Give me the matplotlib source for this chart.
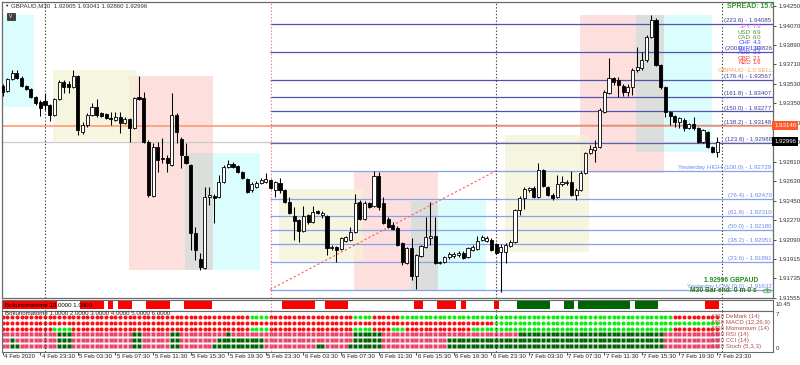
import matplotlib
matplotlib.use("Agg")
import matplotlib.pyplot as plt
from matplotlib.patches import Rectangle, Circle

plt.rcParams['font.family'] = ['Liberation Sans', 'DejaVu Sans']

# ---------------- data ----------------
open_ = [
    1.93511, 1.93465, 1.93576, 1.93631, 1.93585, 1.93511, 1.93484, 1.93410, 1.93363, 1.93373,
    1.93336, 1.93243, 1.93391, 1.93548, 1.93530, 1.93502, 1.93604, 1.93087, 1.93151, 1.93243,
    1.93317, 1.93262, 1.93253, 1.93216, 1.93197, 1.93225, 1.93170, 1.93207, 1.93124, 1.93410,
    1.93400, 1.92994, 1.92496, 1.92948, 1.92847, 1.92847, 1.92782, 1.93243, 1.93022, 1.92865,
    1.92782, 1.92154, 1.91914, 1.91831, 1.92487, 1.92496, 1.92487, 1.92625, 1.92763, 1.92791,
    1.92773, 1.92717, 1.92653, 1.92551, 1.92579, 1.92616, 1.92625, 1.92644, 1.92551, 1.92616,
    1.92551, 1.92440, 1.92311, 1.92274, 1.92173, 1.92320, 1.92256, 1.92357, 1.92320, 1.92311,
    1.92016, 1.92025, 1.92007, 1.92081, 1.92090, 1.92164, 1.92440, 1.92284, 1.92431, 1.92403,
    1.92680, 1.92431, 1.92284, 1.92228, 1.92201, 1.92062, 1.91878, 1.92016, 1.91758, 1.91942,
    1.92025, 1.92108, 1.92127, 1.91878, 1.91887, 1.91933, 1.91942, 1.91951, 1.91970, 1.91933,
    1.91997, 1.92007, 1.92090, 1.92081, 1.92090, 1.92053, 1.91979, 1.91979, 1.92034, 1.92071,
    1.92367, 1.92477, 1.92551, 1.92570, 1.92487, 1.92736, 1.92579, 1.92505, 1.92487, 1.92607,
    1.92616, 1.92625, 1.92505, 1.92551, 1.92708, 1.92893, 1.92920, 1.92948, 1.93271, 1.93447,
    1.93585, 1.93567, 1.93511, 1.93456, 1.93502, 1.93659, 1.93677, 1.93751, 1.93964, 1.94120,
    1.93705, 1.93502, 1.93271, 1.93234, 1.93179, 1.93197, 1.93124, 1.93160, 1.93124, 1.92994,
    1.93087, 1.92948, 1.92905]
high_ = [
    1.93530, 1.93585, 1.93659, 1.93659, 1.93604, 1.93520, 1.93493, 1.93419, 1.93382, 1.93447,
    1.93345, 1.93400, 1.93567, 1.93567, 1.93557, 1.93659, 1.93613, 1.93179, 1.93262, 1.93354,
    1.93391, 1.93271, 1.93262, 1.93271, 1.93271, 1.93271, 1.93225, 1.93216, 1.93410, 1.93604,
    1.93456, 1.93013, 1.92985, 1.92994, 1.93031, 1.92874, 1.93447, 1.93262, 1.93040, 1.92985,
    1.92791, 1.92210, 1.91970, 1.92579, 1.92579, 1.92514, 1.92690, 1.92782, 1.92828, 1.92810,
    1.92782, 1.92727, 1.92662, 1.92625, 1.92634, 1.92662, 1.92708, 1.92653, 1.92634, 1.92662,
    1.92560, 1.92487, 1.92394, 1.92284, 1.92403, 1.92330, 1.92403, 1.92367, 1.92357, 1.92320,
    1.92044, 1.92034, 1.92117, 1.92127, 1.92210, 1.92514, 1.92459, 1.92450, 1.92440, 1.92727,
    1.92717, 1.92487, 1.92302, 1.92256, 1.92219, 1.92071, 1.92025, 1.92108, 1.91961, 1.92044,
    1.92302, 1.92440, 1.92302, 1.91896, 1.91942, 1.91979, 1.91979, 1.91988, 1.91988, 1.92025,
    1.92044, 1.92127, 1.92136, 1.92127, 1.92108, 1.92062, 1.92053, 1.92062, 1.92090, 1.92376,
    1.92496, 1.92579, 1.92579, 1.92588, 1.92800, 1.92745, 1.92588, 1.92523, 1.92690, 1.92680,
    1.92644, 1.92727, 1.92570, 1.92727, 1.92902, 1.92967, 1.93013, 1.93308, 1.93474, 1.93770,
    1.93594, 1.93594, 1.93530, 1.93530, 1.93677, 1.93871, 1.93825, 1.93982, 1.94167, 1.94139,
    1.93714, 1.93511, 1.93280, 1.93243, 1.93225, 1.93216, 1.93170, 1.93225, 1.93133, 1.93114,
    1.93096, 1.92957, 1.93041]
low_ = [
    1.93419, 1.93456, 1.93567, 1.93576, 1.93502, 1.93474, 1.93400, 1.93336, 1.93234, 1.93290,
    1.93188, 1.93234, 1.93382, 1.93447, 1.93447, 1.93493, 1.93059, 1.93068, 1.93133, 1.93234,
    1.93225, 1.93225, 1.93207, 1.93151, 1.93188, 1.93077, 1.93160, 1.92994, 1.93114, 1.93382,
    1.92985, 1.92487, 1.92487, 1.92717, 1.92800, 1.92717, 1.92773, 1.92985, 1.92754, 1.92791,
    1.91997, 1.91905, 1.91813, 1.91822, 1.92413, 1.92247, 1.92477, 1.92616, 1.92754, 1.92754,
    1.92708, 1.92653, 1.92523, 1.92533, 1.92570, 1.92607, 1.92616, 1.92560, 1.92487, 1.92523,
    1.92431, 1.92330, 1.92090, 1.92071, 1.92164, 1.92237, 1.92247, 1.92330, 1.92293, 1.91951,
    1.91997, 1.91887, 1.91997, 1.92071, 1.92081, 1.92154, 1.92274, 1.92274, 1.92385, 1.92394,
    1.92367, 1.92237, 1.92201, 1.92182, 1.92034, 1.91859, 1.91868, 1.91721, 1.91638, 1.91933,
    1.92016, 1.92044, 1.91868, 1.91868, 1.91878, 1.91914, 1.91924, 1.91933, 1.91914, 1.91924,
    1.91988, 1.91997, 1.92081, 1.92071, 1.91988, 1.91961, 1.91610, 1.91878, 1.92025, 1.92062,
    1.92320, 1.92376, 1.92533, 1.92477, 1.92477, 1.92579, 1.92496, 1.92459, 1.92477, 1.92588,
    1.92597, 1.92496, 1.92459, 1.92542, 1.92699, 1.92883, 1.92810, 1.92939, 1.93262, 1.93437,
    1.93520, 1.93410, 1.93419, 1.93419, 1.93428, 1.93640, 1.93659, 1.93733, 1.93954, 1.93696,
    1.93484, 1.93225, 1.93151, 1.93133, 1.93124, 1.93096, 1.93114, 1.93105, 1.92985, 1.92985,
    1.92939, 1.92893, 1.92860]
close_ = [
    1.93456, 1.93576, 1.93631, 1.93585, 1.93511, 1.93484, 1.93410, 1.93354, 1.93308, 1.93336,
    1.93243, 1.93391, 1.93548, 1.93502, 1.93502, 1.93604, 1.93105, 1.93151, 1.93243, 1.93317,
    1.93243, 1.93234, 1.93216, 1.93207, 1.93225, 1.93170, 1.93207, 1.93124, 1.93400, 1.93391,
    1.92994, 1.92505, 1.92948, 1.92828, 1.92837, 1.92800, 1.93243, 1.93087, 1.92874, 1.92800,
    1.92154, 1.91997, 1.91841, 1.92487, 1.92505, 1.92477, 1.92625, 1.92763, 1.92791, 1.92763,
    1.92717, 1.92662, 1.92533, 1.92607, 1.92616, 1.92644, 1.92653, 1.92570, 1.92625, 1.92551,
    1.92440, 1.92339, 1.92265, 1.92173, 1.92311, 1.92256, 1.92348, 1.92339, 1.92339, 1.92016,
    1.92025, 1.91997, 1.92108, 1.92117, 1.92164, 1.92431, 1.92284, 1.92431, 1.92394, 1.92680,
    1.92394, 1.92247, 1.92210, 1.92191, 1.92044, 1.91887, 1.92016, 1.91758, 1.91951, 1.92034,
    1.92117, 1.92127, 1.91878, 1.91887, 1.91933, 1.91961, 1.91961, 1.91970, 1.91924, 1.92016,
    1.92025, 1.92081, 1.92117, 1.92108, 1.91997, 1.91970, 1.92025, 1.92044, 1.92071, 1.92367,
    1.92477, 1.92560, 1.92570, 1.92487, 1.92736, 1.92588, 1.92505, 1.92477, 1.92607, 1.92625,
    1.92625, 1.92505, 1.92551, 1.92708, 1.92893, 1.92930, 1.92948, 1.93290, 1.93456, 1.93585,
    1.93548, 1.93520, 1.93456, 1.93502, 1.93659, 1.93687, 1.93751, 1.93964, 1.94120, 1.93705,
    1.93502, 1.93271, 1.93234, 1.93179, 1.93216, 1.93124, 1.93160, 1.93124, 1.92994, 1.93105,
    1.92948, 1.92902, 1.92996]

time_tick_bars = [0, 8, 16, 24, 32, 40, 48, 56, 64, 72, 80, 88, 96, 104, 112, 120, 128, 136, 144, 152]
time_tick_labels = ["4 Feb 2020", "4 Feb 23:30", "5 Feb 03:30", "5 Feb 07:30", "5 Feb 11:30",
                    "5 Feb 15:30", "5 Feb 19:30", "5 Feb 23:30", "6 Feb 03:30", "6 Feb 07:30",
                    "6 Feb 11:30", "6 Feb 15:30", "6 Feb 19:30", "6 Feb 23:30", "7 Feb 03:30",
                    "7 Feb 07:30", "7 Feb 11:30", "7 Feb 15:30", "7 Feb 19:30", "7 Feb 23:30"]
day_separators = [9, 57, 105, 153]

price_ticks = [1.94250, 1.94070, 1.93890, 1.93710, 1.93530, 1.93350, 1.93170, 1.92990,
               1.92810, 1.92630, 1.92450, 1.92270, 1.92090, 1.91915, 1.91735, 1.91555]

fib_levels = [223.6, 200.0, 176.4, 161.8, 150.0, 138.2, 123.6, 100.0, 76.4, 61.8, 50.0, 38.2, 23.6, 0.0]
fib_prices = [1.94085, 1.93826, 1.93567, 1.93407, 1.93277, 1.93148, 1.92988, 1.92729,
              1.92470, 1.92310, 1.92180, 1.92051, 1.91891, 1.91632]
fib_start = 56.9
yesterday_line = [(56.9, 1.91632), (105.0, 1.92729)]

box_kind = ['cyan', 'yellow', 'pink', 'gray', 'cyan', 'yellow', 'pink', 'gray', 'cyan',
            'yellow', 'pink', 'gray', 'cyan']
box_start = [-0.2, 10.7, 26.9, 38.8, 44.7, 58.8, 74.7, 86.9, 92.6, 106.9, 122.8, 134.7, 140.7]
box_end = [6.7, 28.6, 44.7, 44.7, 54.7, 76.7, 92.6, 92.6, 102.8, 124.7, 140.7, 140.7, 150.9]
box_high = [1.94167, 1.93659, 1.93604, 1.92893, 1.92893, 1.92560, 1.92727, 1.92450, 1.92450,
            1.93059, 1.94167, 1.94167, 1.94167]
box_low = [1.93317, 1.93004, 1.91813, 1.91813, 1.91813, 1.91896, 1.91627, 1.91627, 1.91627,
           1.91979, 1.92708, 1.92902, 1.92902]

red_line_price = 1.93146
bid_price = 1.92996

currencies = ["JPY", "USD", "CAD", "CHF", "EUR", "AUD", "GBP", "NZD"]
strength = [7.9, 6.9, 6.0, 4.3, 3.9, 3.1, 2.1, 1.9]
cur_colors = ["#f050f0", "#3c9c3c", "#6b8e23", "#4848ff", "#4848ff", "#4848ff", "#ff3030", "#ff3030"]

# sub-window 1 signal runs (bar index ranges, inclusive)
sig_red_runs = [(0, 11), (17, 21), (23, 23), (25, 27), (31, 35), (39, 44), (60, 66), (69, 73),
                (88, 89), (93, 96), (98, 98), (105, 105), (150, 152)]
sig_green_runs = [(110, 116), (120, 121), (123, 133), (135, 139)]

# sub-window 2: green runs per indicator (rest red)
ind_names = ["M30 DeMark (14)", "M30 MACD (12,26,9)", "M30 Momentum (14)",
             "M30 RSI (14)", "M30 CCI (14)", "M30 Stoch (5,3,3)"]
ind_green_runs = [
    [(53, 56), (75, 78), (85, 142)],
    [(105, 152)],
    [(11, 14), (53, 56), (75, 78), (83, 85), (100, 142)],
    [(12, 14), (28, 29), (36, 37), (48, 48), (75, 80), (110, 140)],
    [(2, 2), (12, 14), (28, 29), (36, 37), (46, 55), (75, 80), (95, 140)],
    [(2, 3), (12, 14), (28, 29), (36, 37), (45, 55), (67, 68), (74, 80), (95, 140)],
]

# ---------------- figure ----------------
W, H = 800, 365
fig = plt.figure(figsize=(W / 100, H / 100), dpi=100)
fig.patch.set_facecolor('white')
FS = 4.4


def rect(x0, y0, x1, y1):
    return [x0 / W, 1 - y1 / H, (x1 - x0) / W, (y1 - y0) / H]


def fpx(x, y):
    return x / W, 1 - y / H


XMIN, XMAX = -0.15, 163.9
n = len(close_)
assert len(open_) == n and len(high_) == n and len(low_) == n

ax = fig.add_axes(rect(2, 2, 773, 298))
ax.set_xlim(XMIN, XMAX)
ax.set_ylim(1.91554, 1.94287)
ax.set_xticks([])
for s in ax.spines.values():
    s.set_color('#6a6a6a')
    s.set_linewidth(0.9)

# session boxes
box_colors = {'cyan': '#dcfdfd', 'yellow': '#f3f2d6', 'pink': '#fde0dd', 'gray': '#dcdedc'}
order = {'cyan': 0, 'pink': 1, 'yellow': 2, 'gray': 3}
for k, x0, x1, hi, lo in zip(box_kind, box_start, box_end, box_high, box_low):
    alpha = 0.75 if k == 'yellow' else 1.0
    ax.add_patch(Rectangle((x0, lo), x1 - x0, hi - lo, facecolor=box_colors[k],
                           edgecolor='none', alpha=alpha, zorder=0.5 + order[k] * 0.1))

# fib lines
for lev, p in zip(fib_levels, fib_prices):
    col = '#5252b0' if lev > 100 else '#86a2ee'
    tcol = '#3c3ca0' if lev > 100 else '#6a88e6'
    ax.hlines(p, fib_start, XMAX, colors=col, lw=0.9, zorder=1.5)
    if lev == 100.0:
        lab = "Yesterday HIGH (100.0) - %.5f" % p
    elif lev == 0.0:
        lab = "Yesterday LOW (0.0) - %.5f" % p
    else:
        lab = "(%.1f) - %.5f" % (lev, p)
    ax.annotate(lab, xy=(XMAX, p), xytext=(-1, 0.6), textcoords='offset points',
                ha='right', va='bottom', fontsize=FS, color=tcol, zorder=6)

# red level & bid lines
ax.axhline(red_line_price, color='#ff9a70', lw=1.2, zorder=1.6)
ax.axhline(bid_price, color='#c9c9c9', lw=0.9, zorder=1.6)

# diagonal yesterday line
ax.plot([yesterday_line[0][0], yesterday_line[1][0]], [yesterday_line[0][1], yesterday_line[1][1]],
        ls=(0, (2, 2)), color='#ff5a5a', lw=0.8, zorder=2)

# day separators
for k, d in enumerate(day_separators):
    ax.axvline(d, color='#ff7070' if k == 1 else '#404040', ls=(0, (1.2, 1.8)), lw=0.8, zorder=2)

# candles
xs = list(range(n))
ax.vlines(xs, low_, high_, colors='black', lw=0.75, zorder=3)
for i in xs:
    o, c = open_[i], close_[i]
    h = abs(c - o)
    if h < 0.00003:
        ax.hlines(o, i - 0.33, i + 0.33, colors='black', lw=0.9, zorder=4)
    else:
        ax.add_patch(Rectangle((i - 0.33, min(o, c)), 0.66, h,
                               facecolor='white' if c > o else 'black',
                               edgecolor='black', lw=0.6, zorder=4))

# price axis
ax.yaxis.tick_right()
ax.set_yticks(price_ticks)
ax.set_yticklabels(["%.5f" % p for p in price_ticks])
ax.tick_params(axis='y', length=2.5, width=0.6, pad=1.5, labelsize=FS, colors='#303030')

for p, fc in [(red_line_price, '#ff5a28'), (bid_price, '#000000')]:
    ax.text(1.0015, p, "%.5f" % p, transform=ax.get_yaxis_transform(), ha='left', va='center',
            fontsize=FS, color='white', zorder=10, clip_on=False,
            bbox=dict(boxstyle='square,pad=0.3', fc=fc, ec='none'))

# header texts
fig.text(*fpx(4, 6), u"\u25BC", fontsize=3.2, color='#303030', va='center', ha='left')
fig.text(*fpx(11, 6), "GBPAUD,M30  %.5f %.5f %.5f %.5f" % (open_[-1], high_[-1], low_[-1], close_[-1]),
         fontsize=FS, color='#303030', va='center', ha='left')
fig.patches.append(Rectangle(fpx(7, 20), 8 / W, 7 / H, transform=fig.transFigure,
                             facecolor='#404040', edgecolor='#202020', lw=0.5))
fig.text(*fpx(11, 16.5), "V", fontsize=3.5, color='white', va='center', ha='center')

fig.text(*fpx(774, 6), "SPREAD: 15.0", fontsize=FS + 0.6, color='#2e9a2e', fontweight='bold',
         va='center', ha='right')
cur_y = [27, 32, 37.5, 43, 48, 53, 58, 63]
for name, val, col, yy in zip(currencies, strength, cur_colors, cur_y):
    fig.text(*fpx(751, yy), name, fontsize=FS, color=col, va='center', ha='right')
    fig.text(*fpx(753, yy), "%.1f" % val, fontsize=FS, color=col, va='center', ha='left')
fig.text(*fpx(772, 70), "GBPAUD -1.0 SELL", fontsize=FS, color='#ffa040', va='center', ha='right')

fig.text(*fpx(758, 281), "%.5f GBPAUD" % close_[-1], fontsize=FS + 0.4, color='#2a8a1a',
         fontweight='bold', va='center', ha='right')
fig.text(*fpx(757, 291), "M30 Bar end: 0 m 0 s", fontsize=FS + 0.4, color='#2a7a10',
         fontweight='bold', va='center', ha='right')
fig.patches.append(Circle(fpx(767, 291), 4 / W, transform=fig.transFigure,
                          facecolor='none', edgecolor='#4aa84a', lw=0.6))
fig.text(*fpx(767, 291), "1", fontsize=3.5, color='#2a8a1a', va='center', ha='center')

# ---------------- sub-window 1 ----------------
ax1 = fig.add_axes(rect(2, 300, 773, 310.5))
ax1.set_xlim(XMIN, XMAX)
ax1.set_ylim(0, 1)
ax1.set_xticks([])
ax1.set_yticks([])
for s in ax1.spines.values():
    s.set_color('#6a6a6a')
    s.set_linewidth(0.8)
for runs, col in [(sig_red_runs, '#ff0000'), (sig_green_runs, '#006400')]:
    for a, b in runs:
        ax1.add_patch(Rectangle((a - 0.5, 0.15), b - a + 1, 0.75, facecolor=col, edgecolor='none'))
for k, d in enumerate(day_separators):
    ax1.axvline(d, color='#ff7070' if k == 1 else '#404040', ls=(0, (1.2, 1.8)), lw=0.8)
ax1.text(0.4, 0.52, "Bokunomatome 10.0000 1.0000", fontsize=FS, color='black', va='center', ha='left')
fig.text(*fpx(776, 305), "10.45", fontsize=FS, color='#303030', va='center', ha='left')

# ---------------- sub-window 2 ----------------
ax2 = fig.add_axes(rect(2, 311, 773, 352))
ax2.set_xlim(XMIN, XMAX)
ax2.set_ylim(0, 7)
ax2.set_yticks([])
for s in ax2.spines.values():
    s.set_color('#6a6a6a')
    s.set_linewidth(0.8)
for r, runs in enumerate(ind_green_runs):
    yv = 6 - r
    green = set()
    for a, b in runs:
        green.update(range(a, b + 1))
    gx = [i for i in xs if i in green]
    rx = [i for i in xs if i not in green]
    if r < 3:
        ax2.plot(rx, [yv] * len(rx), 'o', ms=2.9, color='#ff1010', mec='none')
        ax2.plot(gx, [yv] * len(gx), 'o', ms=2.9, color='#10ee10', mec='none')
    else:
        ax2.plot(rx, [yv] * len(rx), 's', ms=2.8, color='#e8446c', mec='none')
        ax2.plot(gx, [yv] * len(gx), 's', ms=2.8, color='#006400', mec='none')
    ax2.text(150.9, yv, ind_names[r], fontsize=FS, color='#b05050', va='center', ha='left')
for k, d in enumerate(day_separators):
    ax2.axvline(d, color='#ff7070' if k == 1 else '#404040', ls=(0, (1.2, 1.8)), lw=0.8)
ax2.text(0.4, 6.6, "Bokunomatome 1.0000 2.0000 3.0000 4.0000 5.0000 6.0000", fontsize=FS,
         color='#202020', va='center', ha='left')
fig.text(*fpx(776, 315), "7", fontsize=FS, color='#303030', va='center', ha='left')
fig.text(*fpx(776, 348), "0", fontsize=FS, color='#303030', va='center', ha='left')

# time axis
ax2.set_xticks(time_tick_bars)
ax2.set_xticklabels([])
ax2.tick_params(axis='x', length=2.5, width=0.6, direction='out', colors='#303030')
for b, lab in zip(time_tick_bars, time_tick_labels):
    ax2.text(b + 0.3, -0.35, lab, fontsize=FS, color='#202020', ha='left', va='top',
             transform=ax2.transData, clip_on=False)

fig.savefig("out.png", dpi=100, facecolor='white')
